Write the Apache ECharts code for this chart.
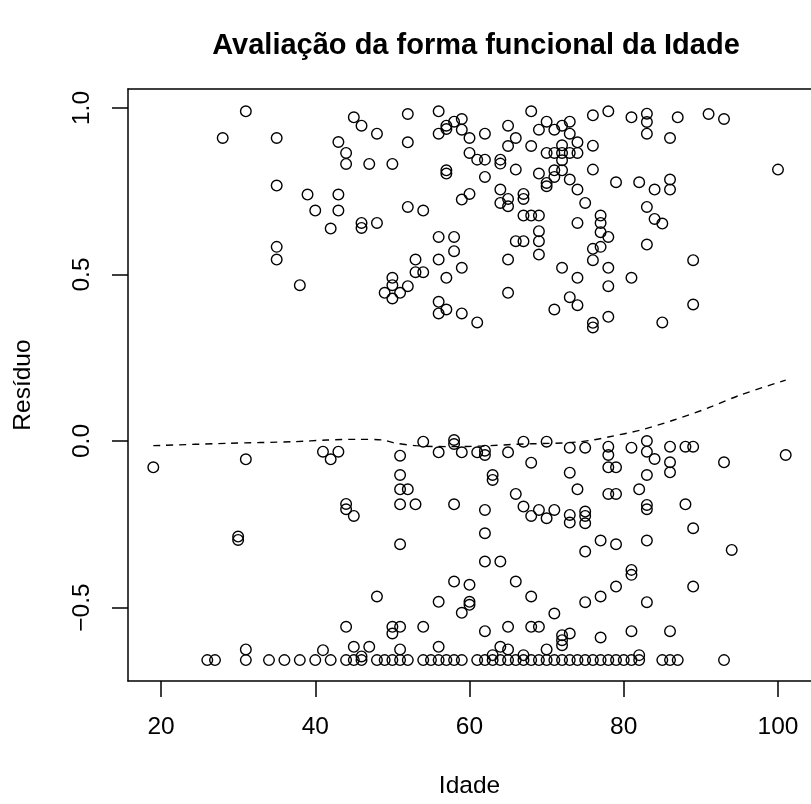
<!DOCTYPE html>
<html>
<head>
<meta charset="utf-8">
<script src="https://cdn.jsdelivr.net/npm/echarts@6/dist/echarts.min.js"></script>
<style>
html,body{margin:0;padding:0;background:#fff;}
#chart{width:811px;height:804px;}
</style>
</head>
<body>
<div id="chart"></div>
<script>
// Tick labels
var xTicks = [20, 40, 60, 80, 100];
var yTicks = [-0.5, 0, 0.5, 1.0];

// Upper cluster (Idade, Resíduo)
var idadeSup = [31,28,35,43,44,44,45,35,39,43,40,43,42,46,46,35,35,38,
  46,48,52,52,56,56,57,57,58,59,59,60,62,65,66,65,68,68,69,70,71,72,73,73,74,72,70,71,72,73,74,72,71,72,71,69,70,70,73,74,74,
  47,50,57,57,60,61,62,64,64,66,62,64,64,65,65,67,67,59,60,52,54,67,68,69,69,69,66,67,69,65,72,74,56,58,58,56,53,53,54,59,57,50,48,
  49,51,52,50,50,65,56,57,56,59,61,71,73,74,
  78,81,89,76,76,78,85,
  76,78,81,83,83,83,87,91,93,86,76,76,79,82,84,86,86,100,75,83,84,85,77,77,77,78,76,77,76,78,83,89];
var residuoSup = [0.990,0.910,0.910,0.898,0.865,0.832,0.972,0.767,0.740,0.740,0.692,0.692,0.638,0.655,0.640,0.583,0.545,0.468,
  0.947,0.923,0.982,0.897,0.990,0.923,0.947,0.937,0.959,0.967,0.935,0.910,0.923,0.947,0.910,0.886,0.990,0.886,0.935,0.959,0.935,0.947,0.959,0.923,0.897,0.888,0.865,0.865,0.865,0.865,0.865,0.843,0.813,0.813,0.793,0.803,0.775,0.765,0.785,0.755,0.655,
  0.832,0.832,0.813,0.803,0.865,0.845,0.845,0.845,0.833,0.815,0.793,0.755,0.715,0.727,0.705,0.742,0.727,0.725,0.742,0.703,0.692,0.677,0.677,0.677,0.630,0.600,0.600,0.600,0.560,0.545,0.520,0.490,0.613,0.613,0.570,0.545,0.545,0.507,0.507,0.520,0.490,0.490,0.655,
  0.445,0.445,0.465,0.428,0.468,0.445,0.418,0.395,0.383,0.383,0.356,0.395,0.432,0.408,
  0.465,0.490,0.410,0.355,0.341,0.373,0.356,
  0.978,0.990,0.972,0.983,0.958,0.923,0.972,0.982,0.967,0.910,0.887,0.815,0.777,0.777,0.755,0.785,0.755,0.815,0.715,0.703,0.667,0.653,0.677,0.655,0.627,0.613,0.577,0.583,0.543,0.520,0.590,0.543];

// Lower cluster (Idade, Resíduo)
var idadeInf = [19,31,41,43,42,
  54,58,58,56,59,61,62,62,65,67,70,73,68,51,51,63,63,73,
  75,78,78,78,79,81,83,83,84,83,86,86,86,88,89,93,101,
  30,30,44,44,45,44,45,41,31,
  51,52,51,53,58,51,66,67,68,69,70,71,73,73,74,62,62,62,64,58,60,60,60,59,56,48,66,68,71,62,65,68,69,72,72,72,73,50,50,51,54,47,51,56,64,65,70,46,63,67,
  78,79,82,83,83,88,89,94,75,75,75,77,79,83,75,81,81,79,77,75,83,89,77,81,86,82];
var residuoInf = [-0.079,-0.055,-0.032,-0.032,-0.055,
  -0.002,0.003,-0.009,-0.034,-0.034,-0.034,-0.029,-0.042,-0.034,-0.002,-0.002,-0.020,-0.065,-0.044,-0.102,-0.102,-0.117,-0.095,
  -0.020,-0.017,-0.042,-0.079,-0.079,-0.020,0.000,-0.032,-0.054,-0.102,-0.017,-0.064,-0.094,-0.017,-0.017,-0.064,-0.042,
  -0.287,-0.297,-0.189,-0.205,-0.225,-0.558,-0.618,-0.628,-0.626,
  -0.145,-0.145,-0.190,-0.190,-0.190,-0.310,-0.159,-0.197,-0.225,-0.207,-0.232,-0.207,-0.222,-0.245,-0.145,-0.207,-0.277,-0.362,-0.362,-0.422,-0.432,-0.483,-0.492,-0.516,-0.483,-0.467,-0.422,-0.467,-0.518,-0.571,-0.558,-0.558,-0.558,-0.583,-0.598,-0.613,-0.578,-0.558,-0.578,-0.558,-0.558,-0.618,-0.626,-0.618,-0.618,-0.626,-0.626,-0.647,-0.643,-0.643,
  -0.159,-0.159,-0.145,-0.192,-0.205,-0.190,-0.262,-0.327,-0.212,-0.225,-0.247,-0.299,-0.310,-0.299,-0.332,-0.387,-0.402,-0.437,-0.467,-0.484,-0.484,-0.437,-0.590,-0.571,-0.571,-0.643];

// Bottom row (Idade, Resíduo)
var idadeBase = [26,27,31,34,36,38,40,42,44,45,46,48,49,50,51,52,54,55,56,57,58,59,61,62,63,64,65,66,67,68,69,70,71,72,73,74,75,76,77,78,79,80,81,82,85,86,87,93];
var residuoBase = [-0.658,-0.658,-0.658,-0.658,-0.658,-0.658,-0.658,-0.658,-0.658,-0.658,-0.658,-0.658,-0.658,-0.658,-0.658,-0.658,-0.658,-0.658,-0.658,-0.658,-0.658,-0.658,-0.658,-0.658,-0.658,-0.658,-0.658,-0.658,-0.658,-0.658,-0.658,-0.658,-0.658,-0.658,-0.658,-0.658,-0.658,-0.658,-0.658,-0.658,-0.658,-0.658,-0.658,-0.658,-0.658,-0.658,-0.658,-0.658];

// Smoothed (lowess) curve
var lowessIdade = [19,28.6,37.3,41.5,45.4,48.8,50.1,53.1,57.4,61.7,66,70.3,72,74,76,78,82.2,86.5,90.8,95.1,101];
var lowessResiduo = [-0.014,-0.007,-0.002,0.003,0.005,0.003,-0.005,-0.014,-0.017,-0.015,-0.010,-0.007,-0.006,-0.003,0.003,0.012,0.033,0.063,0.098,0.138,0.183];

function zip(a, b) { return a.map(function (v, i) { return [v, b[i]]; }); }
var pts = zip(idadeSup, residuoSup).concat(zip(idadeInf, residuoInf), zip(idadeBase, residuoBase));

var FONT = '"Liberation Sans", Arial, Helvetica, sans-serif';
var X_MIN = 15.72, X_MAX = 104.28, Y_MIN = -0.7207, Y_MAX = 1.0571;
var chart = echarts.init(document.getElementById('chart'), null, {renderer: 'canvas'});
chart.setOption({
  animation: false,
  backgroundColor: '#fff',
  title: {
    text: 'Avaliação da forma funcional da Idade',
    left: 471, top: 26, textAlign: 'center',
    textStyle: {fontFamily: FONT, fontSize: 29, fontWeight: 'bold', color: '#000'}
  },
  grid: {left: 128, right: -2, top: 89, bottom: 123, show: false, containLabel: false},
  xAxis: [{
    type: 'value', min: X_MIN, max: X_MAX, position: 'bottom',
    name: 'Idade', nameLocation: 'middle', nameGap: 93,
    nameTextStyle: {fontFamily: FONT, fontSize: 24.5, color: '#000'},
    axisLine: {show: true, onZero: false, lineStyle: {color: '#000', width: 1.5}},
    axisTick: {show: true, inside: false, length: 16, customValues: xTicks, lineStyle: {color: '#000', width: 1.5}},
    axisLabel: {customValues: xTicks, margin: 34, fontFamily: FONT, fontSize: 24.5, color: '#000'},
    splitLine: {show: false}
  }, {
    type: 'value', min: X_MIN, max: X_MAX, position: 'top',
    axisLine: {show: true, onZero: false, lineStyle: {color: '#000', width: 1.5}},
    axisTick: {show: false}, axisLabel: {show: false}, splitLine: {show: false}
  }],
  yAxis: {
    type: 'value', min: Y_MIN, max: Y_MAX,
    name: 'Resíduo', nameLocation: 'middle', nameGap: 92, nameRotate: 90,
    nameTextStyle: {fontFamily: FONT, fontSize: 24.5, color: '#000'},
    axisLine: {show: true, onZero: false, lineStyle: {color: '#000', width: 1.5}},
    axisTick: {show: true, inside: false, length: 16, customValues: yTicks, lineStyle: {color: '#000', width: 1.5}},
    axisLabel: {
      customValues: yTicks, rotate: 90, margin: 33, fontFamily: FONT, fontSize: 24.5, color: '#000',
      formatter: function (v) { var s = Math.abs(v).toFixed(1); return v < 0 ? '\u2212' + s : s; }
    },
    splitLine: {show: false}
  },
  series: [
    {
      type: 'scatter', data: pts, symbol: 'circle', symbolSize: 10.6, silent: true,
      itemStyle: {color: 'rgba(0,0,0,0)', borderColor: '#000', borderWidth: 1.4, opacity: 1}
    },
    {
      type: 'line', data: zip(lowessIdade, lowessResiduo), symbol: 'none', silent: true, smooth: 0.3,
      lineStyle: {color: '#000', width: 1.4, type: [7, 6]}
    }
  ]
});
</script>
</body>
</html>
